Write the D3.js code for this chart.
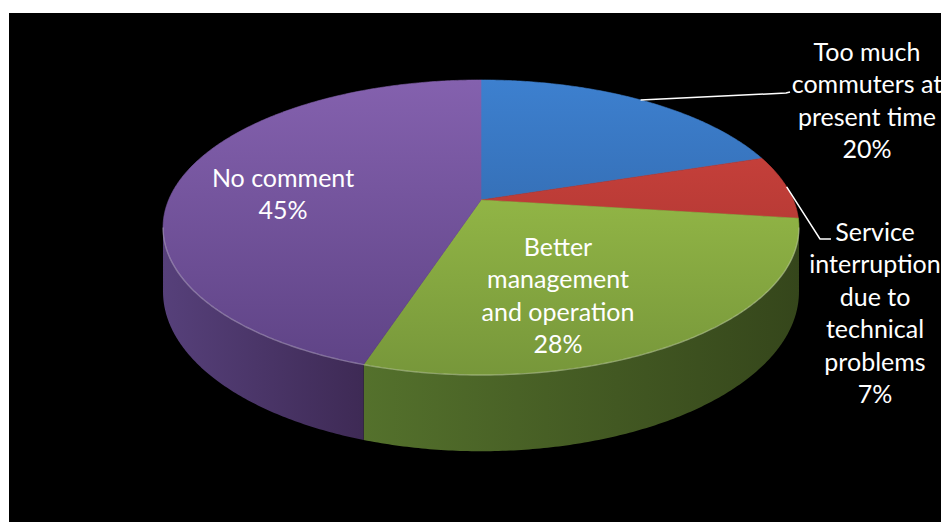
<!DOCTYPE html>
<html>
<head>
<meta charset="utf-8">
<script src="https://cdn.jsdelivr.net/npm/d3@7"></script>
<style>
  html, body { margin: 0; padding: 0; background: #ffffff; }
  svg { display: block; }
  text { font-family: Lato, "Open Sans", sans-serif; fill: #ffffff; }
</style>
</head>
<body>
<div id="chart"></div>
<script>
// slices, clockwise from 12 o'clock
const categories = ['Too much commuters at present time', 'Service interruption due to technical problems', 'Better management and operation', 'No comment'];
const values = [20, 7, 28, 45];
const labelLines = [
  ['Too much', 'commuters at', 'present time'],
  ['Service', 'interruption', 'due to', 'technical', 'problems'],
  ['Better', 'management', 'and operation'],
  ['No comment']
];

// styling
const topColors = [['#3d80cf', '#2b5a97'], ['#d2453f', '#9c2f2b'], ['#a3c94d', '#76963a'], ['#8461ae', '#5d4284']];
const wallColors = [['#2c5384', '#1d385c'], ['#8c2d2a', '#5e1d1b'], ['#54712c', '#35461b'], ['#56407a', '#3e2a55']];

// label layout: first line baseline + center x, and leader line elbow (null = inside label)
const labelPos = [[867, 61], [875, 241], [558, 256], [283, 187]];
const leaderElbow = [[[786, 93], [790, 92]], [[820, 239], [831, 239]], null, null];

const width = 941, height = 522;
const cx = 481, cy = 200, a = 312.4, b = 142.4, k = 0.1864, depth = 62;
const lineH = 32.4;

const svg = d3.select('#chart').append('svg')
  .attr('width', width)
  .attr('height', height);

svg.append('rect')
  .attr('x', 9).attr('y', 13)
  .attr('width', width - 9).attr('height', height - 13)
  .attr('fill', '#000000');

// perspective projection of a point on the pie rim
function project(theta, z, r) {
  r = r === undefined ? 1 : r;
  const X = r * Math.sin(theta), Y = -r * Math.cos(theta);
  const w = 1 - k * Y;
  return [cx + a * X / w, cy + (b * Y + depth * z) / w];
}

function arcPoints(t0, t1, z) {
  const n = Math.max(2, Math.ceil((t1 - t0) / 0.01));
  return d3.range(n + 1).map(function(i) { return project(t0 + (t1 - t0) * i / n, z); });
}

const pie = d3.pie().sort(null).value(function(d) { return d; });
const arcs = pie(values);
const line = d3.line();

const defs = svg.append('defs');
arcs.forEach(function(d, i) {
  const tg = defs.append('linearGradient')
    .attr('id', 'top' + i)
    .attr('gradientUnits', 'userSpaceOnUse')
    .attr('x1', 0).attr('y1', 80).attr('x2', 0).attr('y2', 380);
  tg.append('stop').attr('offset', '0%').attr('stop-color', topColors[i][0]);
  tg.append('stop').attr('offset', '100%').attr('stop-color', topColors[i][1]);

  const wg = defs.append('linearGradient')
    .attr('id', 'wall' + i)
    .attr('x1', 0).attr('y1', 0).attr('x2', 1).attr('y2', 0);
  wg.append('stop').attr('offset', '0%').attr('stop-color', wallColors[i][0]);
  wg.append('stop').attr('offset', '100%').attr('stop-color', wallColors[i][1]);
});

// visible front wall range (silhouette where Y = k)
const frontStart = Math.acos(-k), frontEnd = 2 * Math.PI - Math.acos(-k);

const walls = svg.append('g');
arcs.forEach(function(d, i) {
  const t0 = Math.max(d.startAngle, frontStart), t1 = Math.min(d.endAngle, frontEnd);
  if(t1 <= t0) { return; }
  const pts = arcPoints(t0, t1, 0).concat(arcPoints(t0, t1, 1).reverse());
  walls.append('path')
    .attr('d', line(pts) + 'Z')
    .attr('fill', 'url(#wall' + i + ')');
});

const tops = svg.append('g');
arcs.forEach(function(d, i) {
  const pts = [[cx, cy]].concat(arcPoints(d.startAngle, d.endAngle, 0));
  tops.append('path')
    .attr('d', line(pts) + 'Z')
    .attr('fill', 'url(#top' + i + ')')
    .attr('stroke', 'url(#top' + i + ')')
    .attr('stroke-width', 0.6);
});

// light rim on the front edge
svg.append('path')
  .attr('d', line(arcPoints(frontStart, frontEnd, 0)))
  .attr('fill', 'none')
  .attr('stroke', 'rgba(255,255,255,0.28)')
  .attr('stroke-width', 1.4);

// leader lines
arcs.forEach(function(d, i) {
  if(!leaderElbow[i]) { return; }
  const start = project((d.startAngle + d.endAngle) / 2, 0);
  svg.append('path')
    .attr('d', line([start].concat(leaderElbow[i])))
    .attr('fill', 'none')
    .attr('stroke', '#ffffff')
    .attr('stroke-width', 1.5);
});

// labels
arcs.forEach(function(d, i) {
  const lines = labelLines[i].concat([d3.format('.0f')(d.value / d3.sum(values) * 100) + '%']);
  const t = svg.append('text')
    .attr('text-anchor', 'middle')
    .attr('font-size', 25);
  lines.forEach(function(s, j) {
    t.append('tspan')
      .attr('x', labelPos[i][0])
      .attr('y', labelPos[i][1] + j * lineH)
      .text(s);
  });
});
</script>
</body>
</html>
